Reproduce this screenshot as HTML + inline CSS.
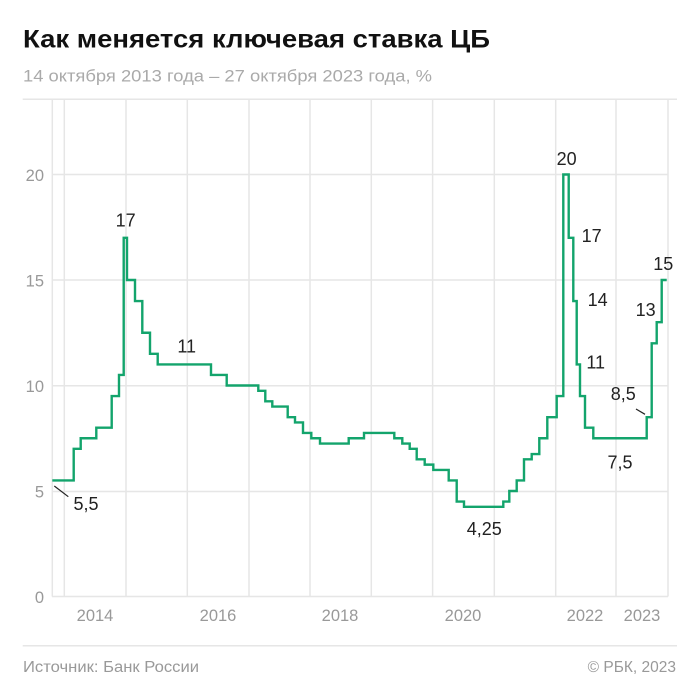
<!DOCTYPE html>
<html><head><meta charset="utf-8"><style>
html,body{margin:0;padding:0;background:#fff;}
svg{display:block;}
text{font-family:"Liberation Sans","Noto Sans CJK SC",sans-serif;}
</style></head><body>
<svg width="700" height="700" viewBox="0 0 700 700" xmlns="http://www.w3.org/2000/svg">
<rect width="700" height="700" fill="#fff"/>
<text x="23" y="47.5" font-size="25" font-weight="bold" fill="#111" textLength="467" lengthAdjust="spacingAndGlyphs">Как меняется ключевая ставка ЦБ</text>
<text x="23" y="81.5" font-size="16.5" fill="#aaa" textLength="409" lengthAdjust="spacingAndGlyphs">14 октября 2013 года – 27 октября 2023 года, %</text>
<line x1="22.7" y1="99.3" x2="677" y2="99.3" stroke="#e6e6e6" stroke-width="1.5"/>
<g stroke="#e6e6e6" stroke-width="1.5">
<line x1="52.3" y1="99" x2="52.3" y2="596.5"/>
<line x1="64.3" y1="99" x2="64.3" y2="596.5"/>
<line x1="126" y1="99" x2="126" y2="596.5"/>
<line x1="187.3" y1="99" x2="187.3" y2="596.5"/>
<line x1="249" y1="99" x2="249" y2="596.5"/>
<line x1="310" y1="99" x2="310" y2="596.5"/>
<line x1="371.3" y1="99" x2="371.3" y2="596.5"/>
<line x1="432.6" y1="99" x2="432.6" y2="596.5"/>
<line x1="494.3" y1="99" x2="494.3" y2="596.5"/>
<line x1="555.7" y1="99" x2="555.7" y2="596.5"/>
<line x1="616" y1="99" x2="616" y2="596.5"/>
<line x1="668" y1="99" x2="668" y2="596.5"/>
<line x1="52" y1="174.5" x2="668" y2="174.5"/>
<line x1="52" y1="280" x2="668" y2="280"/>
<line x1="52" y1="385.75" x2="668" y2="385.75"/>
<line x1="52" y1="491.5" x2="668" y2="491.5"/>
<line x1="52" y1="596.5" x2="668" y2="596.5"/>
</g>
<g font-size="16.5" fill="#999" text-anchor="end">
<text x="44" y="181">20</text>
<text x="44" y="286.5">15</text>
<text x="44" y="392">10</text>
<text x="44" y="497.5">5</text>
<text x="44" y="603">0</text>
</g>
<g font-size="16.5" fill="#999" text-anchor="middle">
<text x="95" y="621">2014</text>
<text x="218" y="621">2016</text>
<text x="340" y="621">2018</text>
<text x="463" y="621">2020</text>
<text x="585" y="621">2022</text>
<text x="642" y="621">2023</text>
</g>
<path fill="none" stroke="#13a46c" stroke-width="2.4" stroke-linejoin="miter" d="M52.3 480.45 H73.7 V448.8 H80.7 V438.25 H96.3 V427.7 H111.7 V396.05 H119 V374.95 H123.7 V237.8 H127 V280 H135 V301.1 H142.3 V332.75 H150 V353.85 H157.7 V364.4 H211 V374.95 H226.7 V385.5 H258.3 V390.78 H265.3 V401.33 H272.3 V406.6 H287.7 V417.15 H295 V422.43 H303 V432.98 H311.3 V438.25 H320 V443.53 H348.7 V438.25 H364 V432.98 H394.3 V438.25 H402.3 V443.53 H409.7 V448.8 H416.7 V459.35 H424.7 V464.63 H433.3 V469.9 H448.7 V480.45 H456.7 V501.55 H464 V506.83 H503.3 V501.55 H509.3 V491 H516.7 V480.45 H524 V459.35 H531.7 V454.08 H539.3 V438.25 H547.3 V417.15 H556.7 V396.05 H563.3 V174.5 H568.7 V237.8 H573.3 V301.1 H576.7 V364.4 H580 V396.05 H585 V427.7 H593.3 V438.25 H646.7 V417.15 H651.7 V343.3 H656.7 V322.2 H661.7 V280 H666.7"/>
<g stroke="#222" stroke-width="1.2">
<line x1="54.3" y1="486" x2="68.3" y2="496.7"/>
<line x1="636" y1="409" x2="645" y2="414.3"/>
</g>
<g font-size="18" fill="#222" text-anchor="middle">
<text x="125.7" y="226.7">17</text>
<text x="186.7" y="352.7">11</text>
<text x="86" y="510">5,5</text>
<text x="566.7" y="165">20</text>
<text x="591.7" y="242">17</text>
<text x="597.7" y="306">14</text>
<text x="595.7" y="368.7">11</text>
<text x="663.3" y="270">15</text>
<text x="645.7" y="316">13</text>
<text x="623.3" y="400">8,5</text>
<text x="620" y="468.7">7,5</text>
<text x="484.3" y="535">4,25</text>
</g>
<line x1="22.7" y1="645.7" x2="677" y2="645.7" stroke="#e6e6e6" stroke-width="1.5"/>
<text x="23" y="672" font-size="15.5" fill="#999" textLength="176" lengthAdjust="spacingAndGlyphs">Источник: Банк России</text>
<text x="676" y="672" font-size="15.5" fill="#999" text-anchor="end">© РБК, 2023</text>
</svg>
</body></html>
